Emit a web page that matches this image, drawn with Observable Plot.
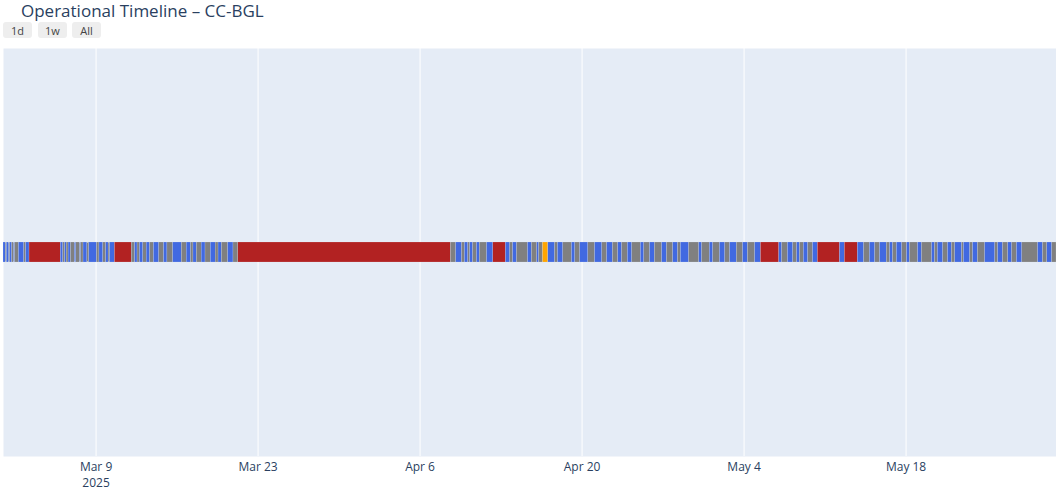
<!DOCTYPE html>
<html>
<head>
<meta charset="utf-8">
<script src="https://cdn.jsdelivr.net/npm/d3@7"></script>
<script src="https://cdn.jsdelivr.net/npm/@observablehq/plot@0.6"></script>
<style>
  html, body { margin: 0; padding: 0; background: #fff; }
  #wrap { width: 1056px; font-family: "Open Sans", verdana, arial, sans-serif; }
  #header { position: relative; height: 40px; }
  #title { position: absolute; left: 21px; top: 3.4px; font-size: 17px; line-height: 15px; color: #2a3f5f; white-space: nowrap; }
  .btn { position: absolute; top: 21.5px; width: 29px; height: 16px; background: #eee; border-radius: 3px;
         font-size: 11px; line-height: 17px; text-align: center; color: #444; }
</style>
</head>
<body>
<div id="wrap">
  <div id="header">
    <div id="title">Operational Timeline – CC-BGL</div>
    <div class="btn" style="left:3px">1d</div>
    <div class="btn" style="left:38px">1w</div>
    <div class="btn" style="left:72px">All</div>
  </div>
  <div id="chart"></div>
</div>
<script>
const YEAR = 2025;
const aircraft = "CC-BGL";
const rangeStart = "03-01 00";
const rangeEnd = "05-31 00";
const tickLabels = ["03-09 00", "03-23 00", "04-06 00", "04-20 00", "05-04 00", "05-18 00"];

// state codes: B = operating, G = idle, R = down, O = alert
const stateCodes = ["B", "G", "R", "O"];
const stateNames = ["Operating", "Idle", "Down", "Alert"];

const segmentStarts = [
  "03-01 00","03-01 05","03-01 07","03-01 12","03-01 14","03-01 18","03-01 22","03-02 00","03-02 08","03-02 19",
  "03-02 23","03-03 06","03-05 23","03-06 04","03-06 08","03-06 11","03-06 15","03-06 20","03-07 04","03-07 07",
  "03-07 15","03-07 17","03-07 22","03-08 06","03-08 10","03-09 02","03-09 07","03-09 15","03-09 21","03-10 02",
  "03-10 05","03-10 15","03-12 02","03-12 09","03-12 14","03-12 19","03-13 02","03-13 09","03-13 16","03-14 00",
  "03-14 11","03-14 21","03-15 04","03-15 16","03-16 10","03-16 20","03-17 05","03-17 10","03-17 17","03-18 03",
  "03-18 11","03-18 22","03-19 08","03-19 14","03-19 21","03-20 10","03-20 21","03-21 07","04-08 16","04-09 03",
  "04-09 15","04-09 21","04-10 04","04-10 08","04-10 14","04-10 22","04-11 04","04-11 19","04-12 08","04-13 10",
  "04-13 19","04-14 01","04-14 09","04-15 08","04-15 16","04-16 03","04-16 07","04-16 15","04-17 02","04-17 16",
  "04-17 22","04-18 09","04-19 03","04-19 10","04-19 20","04-20 13","04-21 03","04-21 18","04-22 04","04-22 16",
  "04-23 03","04-23 11","04-23 23","04-24 08","04-25 02","04-25 09","04-25 21","04-26 07","04-26 22","04-27 08",
  "04-27 21","04-28 07","04-28 13","04-29 06","04-30 03","04-30 09","05-01 01","05-01 08","05-01 22","05-02 09",
  "05-02 19","05-03 09","05-03 22","05-04 08","05-04 23","05-05 11","05-07 01","05-07 07","05-07 19","05-08 06",
  "05-08 14","05-08 20","05-09 04","05-09 13","05-09 23","05-10 09","05-12 07","05-12 17","05-13 20","05-14 09",
  "05-14 21","05-15 08","05-15 18","05-16 08","05-16 15","05-16 21","05-17 05","05-17 16","05-18 02","05-18 08",
  "05-19 01","05-19 09","05-20 06","05-20 12","05-20 18","05-21 05","05-21 15","05-21 23","05-22 06","05-22 20",
  "05-23 00","05-23 13","05-23 19","05-24 05","05-24 20","05-25 17","05-25 23","05-26 09","05-26 20","05-27 04",
  "05-27 14","05-28 01","05-29 10","05-29 20","05-30 05","05-30 15"
];
const segmentStates = [
  "B","G","B","G","B","G","B","G","B","G",
  "B","R","B","G","B","G","B","G","B","G",
  "B","G","B","G","B","G","B","G","B","G",
  "B","R","G","B","G","B","G","B","G","B",
  "G","B","G","B","G","B","G","B","G","B",
  "G","B","G","B","G","B","G","R","G","B",
  "G","B","G","B","G","B","G","B","R","B",
  "G","B","G","B","G","B","G","O","B","G",
  "B","G","B","G","B","G","B","G","B","G",
  "B","G","B","G","B","G","B","G","B","G",
  "B","G","B","G","B","G","B","G","B","G",
  "B","G","B","G","B","R","B","G","B","G",
  "B","G","B","G","B","R","B","R","B","G",
  "B","G","B","G","B","G","B","G","B","G",
  "B","G","B","G","B","G","B","G","B","G",
  "B","G","B","G","B","G","B","G","B","G",
  "B","G","B","G","B","G"
];

const parseT = d3.utcParse("%Y-%m-%d %H");
const t = s => parseT(`${YEAR}-${s}`);

const segments = segmentStarts.map((s, i) => ({
  aircraft,
  start: t(s),
  end: t(i + 1 < segmentStarts.length ? segmentStarts[i + 1] : rangeEnd),
  state: stateNames[stateCodes.indexOf(segmentStates[i])]
}));
const tickDates = tickLabels.map(t);
const fmt = d3.utcFormat("%b %-d");

const chart = Plot.plot({
  width: 1056,
  height: 450,
  marginLeft: 3,
  marginRight: 0,
  marginTop: 8,
  marginBottom: 34,
  style: { fontFamily: '"Open Sans", verdana, arial, sans-serif', background: "#fff", overflow: "visible" },
  x: { type: "utc", domain: [t(rangeStart), t(rangeEnd)], label: null },
  y: { domain: [aircraft], padding: 0.9066, axis: null },
  color: { domain: stateNames, range: ["#4169E1", "#808080", "#B22222", "#FFA500"] },
  marks: [
    Plot.frame({ fill: "#E5ECF6", stroke: null }),
    Plot.gridX(tickDates, { stroke: "#fff", strokeOpacity: 1, strokeWidth: 1 }),
    Plot.barX(segments, { x1: "start", x2: "end", y: "aircraft", fill: "state", stroke: "#E5ECF6", strokeWidth: 0.3, strokeOpacity: 0.6 }),
    Plot.axisX(tickDates, {
      tickSize: 0, tickPadding: 3.5, fontSize: 12, fill: "#2a3f5f", lineHeight: 1.32, label: null,
      tickFormat: (d, i) => i === 0 ? `${fmt(d)}\n${d.getUTCFullYear()}` : fmt(d)
    })
  ]
});
document.getElementById("chart").appendChild(chart);
</script>
</body>
</html>
